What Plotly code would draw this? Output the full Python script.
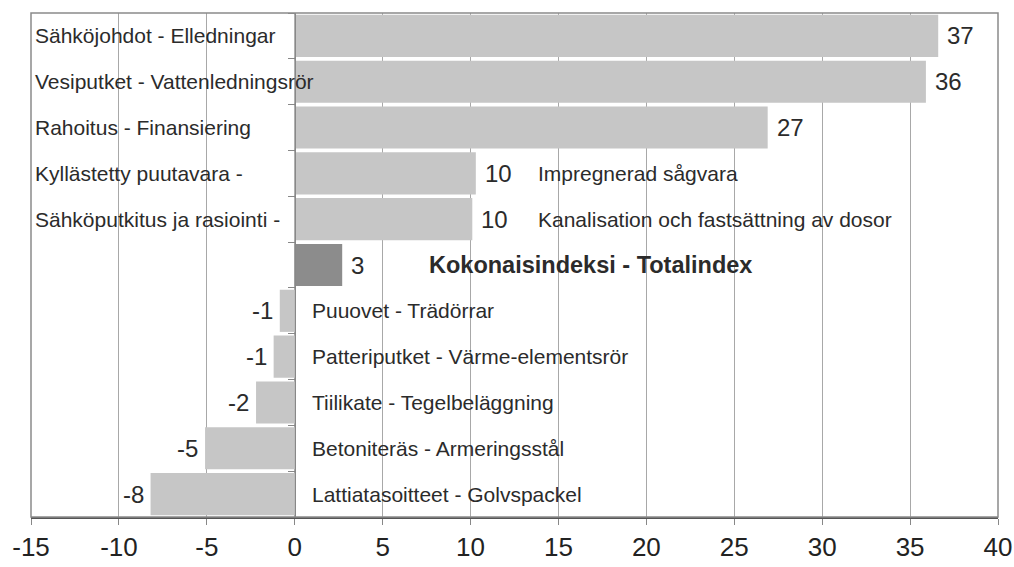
import plotly.graph_objects as go

categories = [
    "Sähköjohdot - Elledningar",
    "Vesiputket - Vattenledningsrör",
    "Rahoitus - Finansiering",
    "Kyllästetty puutavara - Impregnerad sågvara",
    "Sähköputkitus ja rasiointi - Kanalisation och fastsättning av dosor",
    "Kokonaisindeksi - Totalindex",
    "Puuovet - Trädörrar",
    "Patteriputket - Värme-elementsrör",
    "Tiilikate - Tegelbeläggning",
    "Betoniteräs - Armeringsstål",
    "Lattiatasoitteet - Golvspackel",
]
values = [36.6, 35.9, 26.9, 10.3, 10.1, 2.7, -0.85, -1.2, -2.2, -5.1, -8.2]
value_labels = ["37", "36", "27", "10", "10", "3", "-1", "-1", "-2", "-5", "-8"]
left_names = ["Sähköjohdot - Elledningar", "Vesiputket - Vattenledningsrör",
              "Rahoitus - Finansiering", "Kyllästetty puutavara -",
              "Sähköputkitus ja rasiointi -"]
right_names = ["", "", "", "Impregnerad sågvara",
               "Kanalisation och fastsättning av dosor",
               "Kokonaisindeksi - Totalindex", "Puuovet - Trädörrar",
               "Patteriputket - Värme-elementsrör", "Tiilikate - Tegelbeläggning",
               "Betoniteräs - Armeringsstål", "Lattiatasoitteet - Golvspackel"]
x_ticks = [-15, -10, -5, 0, 5, 10, 15, 20, 25, 30, 35, 40]

total_idx = 5
colors = ["#8c8c8c" if i == total_idx else "#c6c6c6" for i in range(len(values))]

FONT = "Liberation Sans, Arial, sans-serif"
TXT = "#2b2b2b"

fig = go.Figure()
fig.add_trace(go.Bar(
    y=categories, x=values, orientation="h",
    marker=dict(color=colors, line=dict(width=0)),
    width=0.92, hoverinfo="skip",
))

ann = []
for i, (cat, v, lab) in enumerate(zip(categories, values, value_labels)):
    ann.append(dict(x=v, y=cat, text=lab, showarrow=False,
                    xanchor="left" if v >= 0 else "right",
                    xshift=7 if v >= 0 else -5,
                    font=dict(family=FONT, size=24, color=TXT)))
for i, name in enumerate(left_names):
    ann.append(dict(x=-15, y=categories[i], text=name, showarrow=False,
                    xanchor="left", xshift=2,
                    font=dict(family=FONT, size=21, color=TXT)))
for i, name in enumerate(right_names):
    if not name:
        continue
    if i in (3, 4):
        xpos, shift = 13.7, 0
    elif i == total_idx:
        xpos, shift = 7.5, 0
    else:
        xpos, shift = 0, 15
    ann.append(dict(x=xpos, y=categories[i], text=("<b>%s</b>" % name) if i == total_idx else name,
                    showarrow=False, xanchor="left", xshift=shift,
                    font=dict(family=FONT, size=23.5 if i == total_idx else 21, color=TXT)))

fig.update_layout(
    width=1014, height=567,
    margin=dict(l=31, r=16, t=13, b=50),
    paper_bgcolor="white", plot_bgcolor="white",
    showlegend=False, annotations=ann,
    bargap=0.08,
    xaxis=dict(range=[-15, 40], tickvals=x_ticks, ticktext=[str(t) for t in x_ticks],
               showgrid=True, gridcolor="#a8a8a8", gridwidth=1, automargin=False,
               zeroline=False, showline=True, linecolor="#555", linewidth=2, mirror=False,
               ticks="outside", ticklen=6, tickcolor="#888",
               tickfont=dict(family=FONT, size=26, color="#222")),
    yaxis=dict(type="category", categoryorder="array", categoryarray=categories,
               autorange="reversed", showticklabels=False, showgrid=False, automargin=False,
               zeroline=False, showline=True, linecolor="#888", linewidth=1,
               anchor="free", position=15/55, ticks="outside", tickson="boundaries",
               ticklen=7, tickcolor="#888"),
    shapes=[dict(type="rect", xref="paper", yref="paper", x0=0, x1=1, y0=0, y1=1,
                 line=dict(color="#8a8a8a", width=1.5), layer="above")],
)

fig.write_html("out.html", config={"displayModeBar": False},
               post_script="document.body.style.margin='0';document.body.style.overflow='hidden';")
